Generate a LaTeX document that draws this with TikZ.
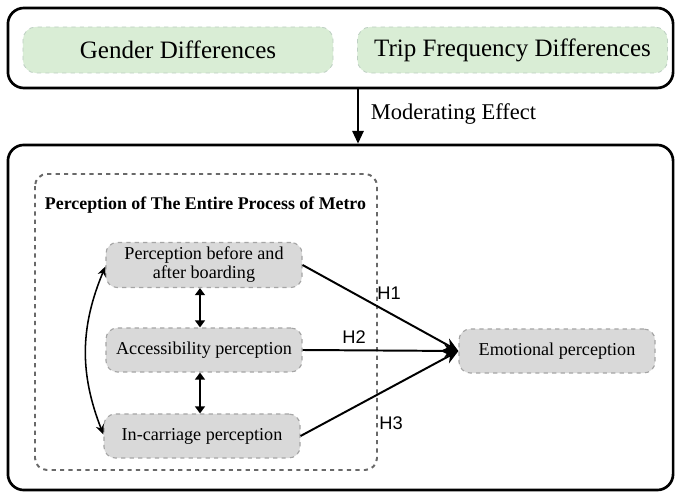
\documentclass[tikz,border=0pt]{standalone}
\usepackage{fontspec}
\setmainfont{Liberation Serif}
\newfontfamily\hfont{Liberation Sans}
\usetikzlibrary{arrows.meta}
\definecolor{pillgreen}{RGB}{217,237,213}
\definecolor{pillline}{RGB}{190,208,195}
\definecolor{factorgray}{RGB}{217,217,217}
\definecolor{factorline}{RGB}{165,165,165}
\definecolor{groupline}{RGB}{105,105,105}
\begin{document}
\begin{tikzpicture}[x=0.025cm,y=-0.025cm,
  outerbox/.style={draw=black,line width=1.9pt,rounded corners=0.4cm,inner sep=0pt},
  pillbox/.style={draw=pillline,fill=pillgreen,dashed,line width=0.6pt,rounded corners=0.32cm,minimum width=7.75cm,minimum height=1.15cm,font=\fontsize{17.8}{20}\selectfont},
  factorbox/.style={draw=factorline,fill=factorgray,dashed,line width=0.8pt,rounded corners=0.28cm,minimum width=4.9cm,minimum height=1.1cm,align=center,font=\fontsize{12.9}{13.5}\selectfont},
  hlabel/.style={font=\hfont\fontsize{13}{15}\selectfont},
  tip/.style={-{Stealth[length=10pt,width=9pt]},line width=1.4pt},
  twotip/.style={{Triangle[length=5pt,width=7pt]}-{Triangle[length=5pt,width=7pt]},line width=1.5pt},
  bendtip/.style={{Stealth[length=7pt,width=6pt]}-{Stealth[length=7pt,width=6pt]},line width=1.1pt}]
\useasboundingbox (0,0) rectangle (677,497);

\node[outerbox,minimum width=16.625cm,minimum height=2cm] (top) at (340.5,48) {};
\node[outerbox,minimum width=16.625cm,minimum height=8.625cm] (bottom) at (340.5,317.5) {};
\node[pillbox] (gender) at (178,50) {Gender Differences};
\node[pillbox] (trip) at (512.5,50) {Trip Frequency Differences};

\coordinate (modx) at (358,0);
\draw[-{Triangle[length=9pt,width=8pt]},line width=1.3pt] (top.south -| modx) -- (bottom.north -| modx);
\node[anchor=west,font=\fontsize{16}{18}\selectfont] (modlabel) at (366,114) {Moderating Effect};

\draw[groupline,dashed,line width=1.4pt,rounded corners=0.3cm] (35,174) rectangle (377,470);
\node[anchor=west,font=\bfseries\fontsize{12.7}{14}\selectfont] (title) at (40,205) {Perception of The Entire Process of Metro};

\node[factorbox] (before) at (204,265) {Perception before and\\after boarding};
\node[factorbox] (access) at (204,350) {Accessibility perception};
\node[factorbox] (carriage) at (202,436) {In-carriage perception};
\node[factorbox] (emotion) at (557,351) {Emotional perception};

\draw[twotip] (before.south -| 200,0) -- (access.north -| 200,0);
\draw[twotip] (access.south -| 200,0) -- (carriage.north -| 200,0);
\draw[bendtip] ([yshift=-1pt]before.west) to[bend right=22] ([yshift=1pt]carriage.west);

\draw[tip] (before.east) -- (emotion.west);
\draw[tip] (access.east) -- (emotion.west);
\draw[tip] (carriage.east) -- (emotion.west);
\node[hlabel] (h1) at (389,293) {H1};
\node[hlabel] (h2) at (354,337) {H2};
\node[hlabel] (h3) at (391,423) {H3};
\end{tikzpicture}
\end{document}
